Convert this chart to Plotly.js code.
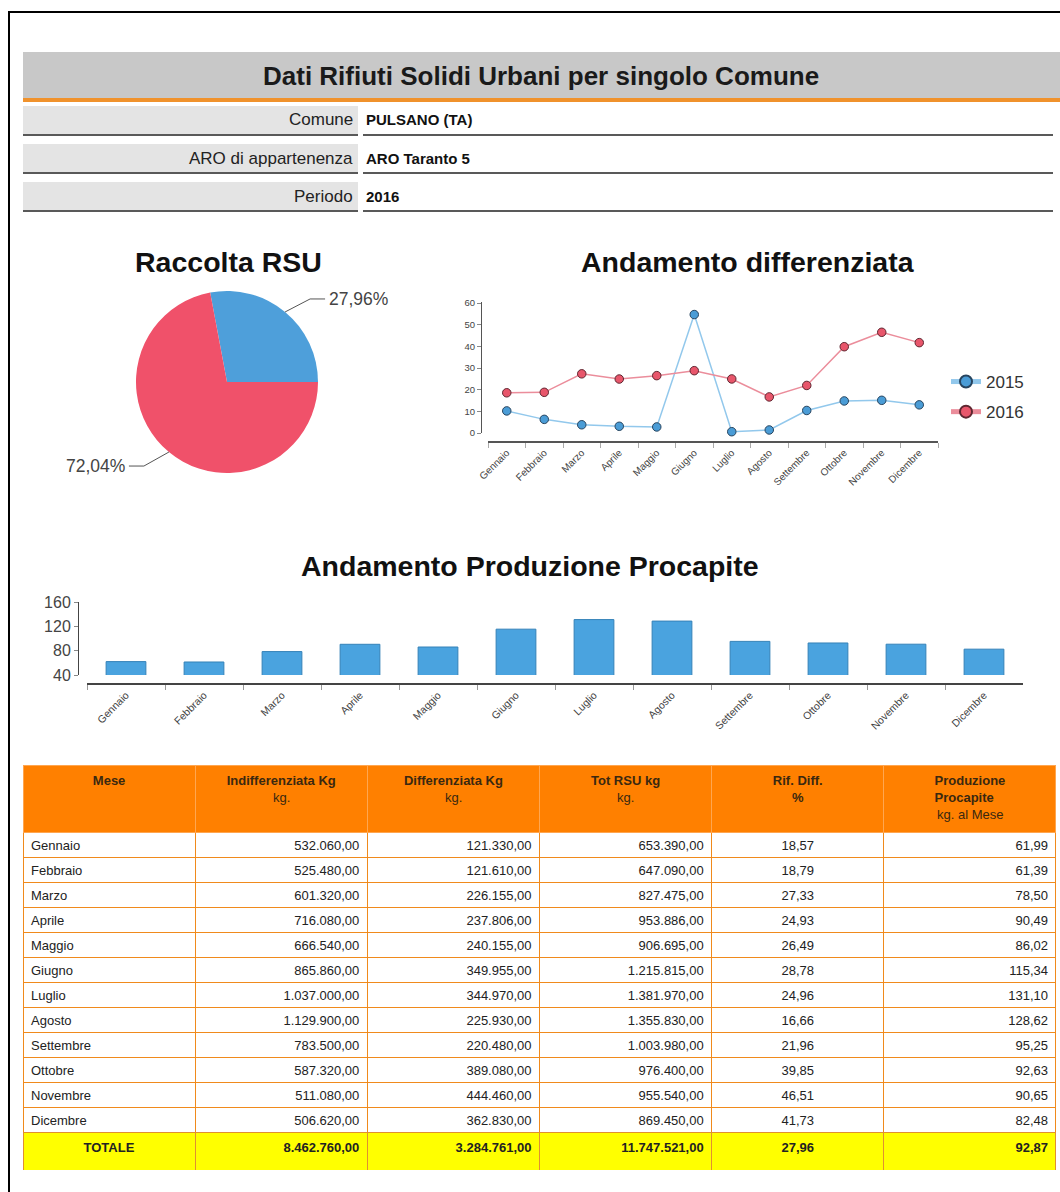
<!DOCTYPE html>
<html><head><meta charset="utf-8">
<script src="https://cdn.plot.ly/plotly-3.0.1.min.js"></script>
<style>html,body{margin:0;padding:0;background:#fff;} #chart{width:1060px;height:1192px;}</style>
</head><body><div id="chart"></div>
<script>
// ---------- data ----------
const months = ['Gennaio','Febbraio','Marzo','Aprile','Maggio','Giugno','Luglio','Agosto','Settembre','Ottobre','Novembre','Dicembre'];
const indifferenziata = [532060, 525480, 601320, 716080, 666540, 865860, 1037000, 1129900, 783500, 587320, 511080, 506620];
const differenziata = [121330, 121610, 226155, 237806, 240155, 349955, 344970, 225930, 220480, 389080, 444460, 362830];
const totRsu = [653390, 647090, 827475, 953886, 906695, 1215815, 1381970, 1355830, 1003980, 976400, 955540, 869450];
const rifDiff2016 = [18.57, 18.79, 27.33, 24.93, 26.49, 28.78, 24.96, 16.66, 21.96, 39.85, 46.51, 41.73];
const rifDiff2015 = [10.2, 6.3, 3.8, 3.1, 2.8, 54.7, 0.6, 1.4, 10.4, 14.8, 15.1, 13.0];
const procapite = [61.99, 61.39, 78.50, 90.49, 86.02, 115.34, 131.10, 128.62, 95.25, 92.63, 90.65, 82.48];
const totals = {label: 'TOTALE', indiff: 8462760, diff: 3284761, tot: 11747521, rif: 27.96, procap: 92.87};
const pieLabels = ['Differenziata', 'Indifferenziata'];
const pieValues = [27.96, 72.04];
const seriesNames = ['2015', '2016'];
const infoLabels = ['Comune', 'ARO di appartenenza', 'Periodo'];
const infoValues = ['PULSANO (TA)', 'ARO Taranto 5', '2016'];
const headerTitles = ['<b>Mese</b>', '<b>Indifferenziata Kg</b>', '<b>Differenziata Kg</b>', '<b>Tot RSU kg</b>', '<b>Rif. Diff.</b>', '<b>Produzione</b><br><b>Procapite</b>'];
const headerUnits = ['', 'kg.', 'kg.', 'kg.', '<b>%</b>', 'kg. al Mese'];
const pageTitle = 'Dati Rifiuti Solidi Urbani per singolo Comune';
const chartTitles = ['Raccolta RSU', 'Andamento differenziata', 'Andamento Produzione Procapite'];

// ---------- helpers ----------
const W = 1060, H = 1192;
const X = p => p / W, Y = p => 1 - p / H;
const FONT = 'Liberation Sans, Arial, Helvetica, sans-serif';
function fmtIt(v, d) {
  const s = v.toFixed(d); const parts = s.split('.');
  return parts[0].replace(/\B(?=(\d{3})+(?!\d))/g, '.') + (d ? ',' + parts[1] : '');
}

const shapes = [];
const annotations = [];

// page frame
shapes.push({type:'rect', xref:'paper', yref:'paper', x0:X(9), x1:X(1075), y0:Y(12), y1:Y(1210), line:{color:'#000', width:2}, fillcolor:'rgba(0,0,0,0)'});
// header bar
shapes.push({type:'rect', xref:'paper', yref:'paper', x0:X(23), x1:X(1060), y0:Y(52), y1:Y(98), line:{width:0}, fillcolor:'#c8c8c8'});
shapes.push({type:'rect', xref:'paper', yref:'paper', x0:X(23), x1:X(1060), y0:Y(98), y1:Y(102), line:{width:0}, fillcolor:'#f0922c'});
annotations.push({xref:'paper', yref:'paper', x:X(541), y:Y(76), text:'<b>' + pageTitle + '</b>', showarrow:false,
  font:{family:FONT, size:26, color:'#1a1a1a'}, xanchor:'center', yanchor:'middle'});
// info rows
infoLabels.forEach((lab, i) => {
  const top = 106 + i * 38, bot = top + 28;
  shapes.push({type:'rect', xref:'paper', yref:'paper', x0:X(23), x1:X(358), y0:Y(top), y1:Y(bot), line:{width:0}, fillcolor:'#e4e4e4'});
  shapes.push({type:'line', xref:'paper', yref:'paper', x0:X(23), x1:X(358), y0:Y(bot + 1), y1:Y(bot + 1), line:{color:'#222', width:1.5}});
  shapes.push({type:'line', xref:'paper', yref:'paper', x0:X(363), x1:X(1053), y0:Y(bot + 1), y1:Y(bot + 1), line:{color:'#222', width:1.5}});
  annotations.push({xref:'paper', yref:'paper', x:X(355), y:Y((top + bot) / 2), text:lab, showarrow:false,
    font:{family:FONT, size:17, color:'#222'}, xanchor:'right', yanchor:'middle'});
  annotations.push({xref:'paper', yref:'paper', x:X(364), y:Y((top + bot) / 2), text:'<b>' + infoValues[i] + '</b>', showarrow:false,
    font:{family:FONT, size:15, color:'#111'}, xanchor:'left', yanchor:'middle'});
});

// chart titles
[[228, 262], [748, 262], [530, 566]].forEach((p, i) => {
  annotations.push({xref:'paper', yref:'paper', x:X(p[0]), y:Y(p[1]), text:'<b>' + chartTitles[i] + '</b>', showarrow:false,
    font:{family:FONT, size:28.5, color:'#111'}, xanchor:'center', yanchor:'middle'});
});

// pie geometry + leader lines
const pcx = 227, pcy = 382, pr = 91;
const sumPie = pieValues.reduce((a, b) => a + b, 0);
const rotation = 90 - pieValues[0] / sumPie * 360;
let acc = 0;
pieValues.forEach((v, i) => {
  const mid = (rotation + (acc + v / 2) / sumPie * 360) * Math.PI / 180;
  acc += v;
  const s = Math.sin(mid), c = Math.cos(mid);
  const hx = pcx + pr * s, hy = pcy - pr * c;
  const sg = s >= 0 ? 1 : -1;
  const ex = hx + sg * 25, ey = hy + (c > 0 ? -13 : 14);
  const tx = ex + sg * 15;
  shapes.push({type:'path', xref:'paper', yref:'paper',
    path:`M ${X(hx)} ${Y(hy)} L ${X(ex)} ${Y(ey)} L ${X(tx)} ${Y(ey)}`, line:{color:'#555', width:1}});
  annotations.push({xref:'paper', yref:'paper', x:X(tx + sg * 2), y:Y(ey), text:fmtIt(v, 2) + '%', showarrow:false,
    font:{family:FONT, size:17.5, color:'#444'}, xanchor: sg > 0 ? 'left' : 'right', yanchor:'middle'});
});

const traces = [];
traces.push({type:'pie', values:pieValues, labels:pieLabels, sort:false, direction:'clockwise', rotation:rotation,
  marker:{colors:['#4e9fda', '#f0516a'], line:{width:0}}, textinfo:'none', showlegend:false,
  domain:{x:[X(pcx - pr), X(pcx + pr)], y:[Y(pcy + pr), Y(pcy - pr)]}});

// line chart
const lineColors = [{line:'#92c8ec', fill:'#4a9cd6', edge:'#27445e'}, {line:'#eb8d9b', fill:'#e8566b', edge:'#5e2630'}];
[rifDiff2015, rifDiff2016].forEach((ys, i) => {
  traces.push({type:'scatter', mode:'lines+markers', x:months, y:ys, name:seriesNames[i], legendgroup:seriesNames[i],
    xaxis:'x', yaxis:'y', line:{color:lineColors[i].line, width:1.5}, cliponaxis:false,
    marker:{size:8.5, color:lineColors[i].fill, line:{color:lineColors[i].edge, width:1}}});
});

// bar chart
traces.push({type:'bar', x:months, y:procapite, xaxis:'x2', yaxis:'y2', showlegend:false,
  marker:{color:'#4aa3df', line:{color:'#3582b8', width:1}}});

// table
const f2 = v => fmtIt(v, 2);
const tL = 23, tR = 1056, tTop = 765, headH = 67, rowH = 25;
traces.push({type:'table', domain:{x:[X(tL), X(tR)], y:[Y(tTop + headH + rowH * months.length + 2), Y(tTop)]},
  columnwidth:[1,1,1,1,1,1],
  header:{values:headerTitles, height:headH, align:'center', fill:{color:'#ff8000'}, line:{color:'#ffa650', width:1},
    font:{family:FONT, size:13, color:'#3a2810'}},
  cells:{values:[months, indifferenziata.map(f2), differenziata.map(f2), totRsu.map(f2), rifDiff2016.map(f2), procapite.map(f2)],
    height:rowH, align:['left','right','right','right','center','right'], fill:{color:'#ffffff'},
    line:{color:'#f08a1c', width:1}, font:{family:FONT, size:13, color:'#222'}}});
// unit lines of the header, centred under each title
const colW = (tR - tL) / headerTitles.length;
headerUnits.forEach((u, j) => {
  if (!u) return;
  const multi = headerTitles[j].indexOf('<br>') >= 0;
  annotations.push({xref:'paper', yref:'paper', x:X(tL + colW * (j + 0.5)), y:Y(tTop + (multi ? 49 : 32)), text:u, showarrow:false,
    font:{family:FONT, size:13, color:'#3a2810'}, xanchor:'center', yanchor:'middle'});
});
const totTop = tTop + headH + rowH * months.length;
traces.push({type:'table', domain:{x:[X(tL), X(tR)], y:[Y(totTop + 38), Y(totTop)]},
  columnwidth:[1,1,1,1,1,1],
  header:{values:['<b>' + totals.label + '</b>', '<b>' + f2(totals.indiff) + '</b>', '<b>' + f2(totals.diff) + '</b>',
      '<b>' + f2(totals.tot) + '</b>', '<b>' + f2(totals.rif) + '</b>', '<b>' + f2(totals.procap) + '</b>'],
    height:38, align:['center','right','right','right','center','right'], fill:{color:'#ffff00'},
    line:{color:'#e09030', width:1}, font:{family:FONT, size:13, color:'#222'}},
  cells:{values:[]}});

const layout = {
  width:W, height:H, margin:{l:0, r:0, t:0, b:0}, paper_bgcolor:'#fff', plot_bgcolor:'rgba(0,0,0,0)',
  font:{family:FONT, color:'#333'}, bargap:0.49,
  shapes:shapes, annotations:annotations,
  legend:{x:X(946), y:Y(364), xanchor:'left', yanchor:'top', font:{family:FONT, size:17, color:'#333'},
    bgcolor:'rgba(0,0,0,0)', itemsizing:'constant', tracegroupgap:5},
  xaxis:{domain:[X(488), X(938)], anchor:'free', position:Y(442), type:'category', range:[-0.5, 11.5],
    showline:true, linecolor:'#555', linewidth:2, ticks:'outside', tickson:'boundaries', ticklen:5, tickcolor:'#aaa',
    tickangle:-45, tickfont:{size:10, color:'#444'}, showgrid:false, zeroline:false},
  yaxis:{domain:[Y(433), Y(302)], range:[0, 60.5], anchor:'free', position:X(481), showline:true, linecolor:'#555', linewidth:1,
    ticks:'outside', ticklen:4, tickcolor:'#888', tickvals:[0,10,20,30,40,50,60], tickfont:{size:9.5, color:'#444'},
    showgrid:false, zeroline:false},
  xaxis2:{domain:[X(87), X(1023)], anchor:'free', position:Y(684), type:'category', range:[-0.5, 11.5],
    showline:true, linecolor:'#444', linewidth:2, ticks:'outside', tickson:'boundaries', ticklen:5, tickcolor:'#999',
    tickangle:-45, tickfont:{size:10.5, color:'#444'}, showgrid:false, zeroline:false},
  yaxis2:{domain:[Y(675), Y(602)], range:[40, 160], anchor:'free', position:X(78), showline:true, linecolor:'#444', linewidth:1,
    ticks:'outside', ticklen:4, tickcolor:'#888', tickvals:[40,80,120,160], tickfont:{size:16, color:'#444'},
    showgrid:false, zeroline:false}
};

Plotly.newPlot('chart', traces, layout, {staticPlot:true, displayModeBar:false});
</script></body></html>
